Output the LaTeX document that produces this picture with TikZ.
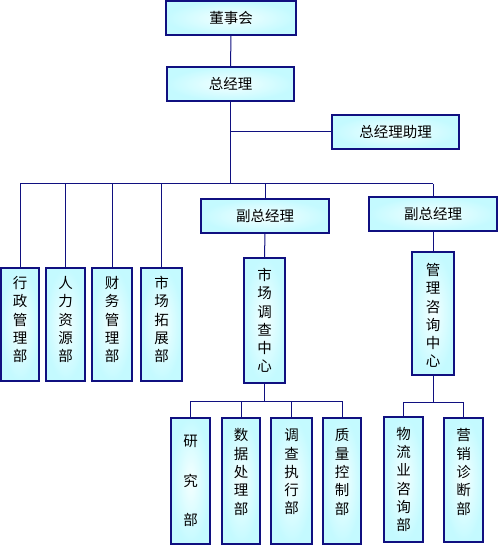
\documentclass[tikz,border=0pt]{standalone}
\usepackage{fontspec}
\newfontfamily\cjk{Noto Sans CJK SC}
\usetikzlibrary{fit}
\definecolor{navy}{RGB}{16,16,128}
\definecolor{boxedge}{RGB}{196,250,255}
\definecolor{boxmid}{RGB}{245,255,255}
\tikzset{
  box/.style={draw=navy, line width=1.2pt, inner sep=0pt, rectangle,
    shading=radial, inner color=boxmid, outer color=boxedge},
  lbl/.style={font=\cjk\fontsize{14.5}{18.3}\selectfont, align=center, inner sep=0pt},
  conn/.style={draw=navy, line width=1pt},
}
\begin{document}
\begin{tikzpicture}[x=1pt,y=-1pt]
\useasboundingbox (0,0) rectangle (498,545);
% top level
\node[box, fit={(166,1) (296,35)}, label={[lbl]center:董事会}] (dsh) {};
\node[box, fit={(167,67) (294,101)}, label={[lbl]center:总经理}] (zjl) {};
\node[box, fit={(332,115) (459,149)}, label={[lbl]center:总经理助理}] (zl) {};
\node[box, fit={(201,199) (329,233)}, label={[lbl]center:副总经理}] (fz1) {};
\node[box, fit={(369,197) (497,231)}, label={[lbl]center:副总经理}] (fz2) {};
% departments
\node[box, fit={(1,268) (39,381)}, label={[lbl,yshift=5pt]center:行\\政\\管\\理\\部}] (b1) {};
\node[box, fit={(46,268) (85,381)}, label={[lbl,yshift=5pt]center:人\\力\\资\\源\\部}] (b2) {};
\node[box, fit={(92,268) (132,381)}, label={[lbl,yshift=5pt]center:财\\务\\管\\理\\部}] (b3) {};
\node[box, fit={(141,268) (182,381)}, label={[lbl,yshift=5pt]center:市\\场\\拓\\展\\部}] (b4) {};
\node[box, fit={(244,258) (285,383)}, label={[lbl]center:市\\场\\调\\查\\中\\心}] (sc) {};
\node[box, fit={(412,252) (454,375)}, label={[lbl,yshift=-2pt]center:管\\理\\咨\\询\\中\\心}] (gl) {};
% bottom level
\node[box, fit={(171,418) (210,544)}, label={[lbl,font=\cjk\fontsize{14.5}{39.5}\selectfont]center:研\\究\\部}] (c1) {};
\node[box, fit={(222,418) (260,544)}, label={[lbl,yshift=9pt]center:数\\据\\处\\理\\部}] (c2) {};
\node[box, fit={(271,418) (312,544)}, label={[lbl,yshift=9pt]center:调\\查\\执\\行\\部}] (c3) {};
\node[box, fit={(323,418) (361,544)}, label={[lbl,yshift=9pt]center:质\\量\\控\\制\\部}] (c4) {};
\node[box, fit={(384,417) (423,542)}, label={[lbl]center:物\\流\\业\\咨\\询\\部}] (d1) {};
\node[box, fit={(444,418) (483,542)}, label={[lbl,yshift=8pt]center:营\\销\\诊\\断\\部}] (d2) {};
% bus coordinates
\coordinate (busA) at (231,184);
\coordinate (busB) at (265,401);
\coordinate (busC) at (433,402);
% connectors
\draw[conn] (dsh.south) -- (zjl.north);
\draw[conn] (zjl.south) -- (zjl.south |- busA);
\draw[conn] (zjl.south |- zl.west) -- (zl.west);
\draw[conn] (b1.north |- busA) -- (fz2.north |- busA);
\foreach \n in {b1,b2,b3,b4,fz1,fz2} \draw[conn] (\n.north |- busA) -- (\n.north);
\draw[conn] (fz1.south) -- (sc.north);
\draw[conn] (fz2.south) -- (gl.north);
\draw[conn] (sc.south) -- (sc.south |- busB);
\draw[conn] (c1.north |- busB) -- (c4.north |- busB);
\foreach \n in {c1,c2,c3,c4} \draw[conn] (\n.north |- busB) -- (\n.north);
\draw[conn] (gl.south) -- (gl.south |- busC);
\draw[conn] (d1.north |- busC) -- (d2.north |- busC);
\foreach \n in {d1,d2} \draw[conn] (\n.north |- busC) -- (\n.north);
\end{tikzpicture}
\end{document}
